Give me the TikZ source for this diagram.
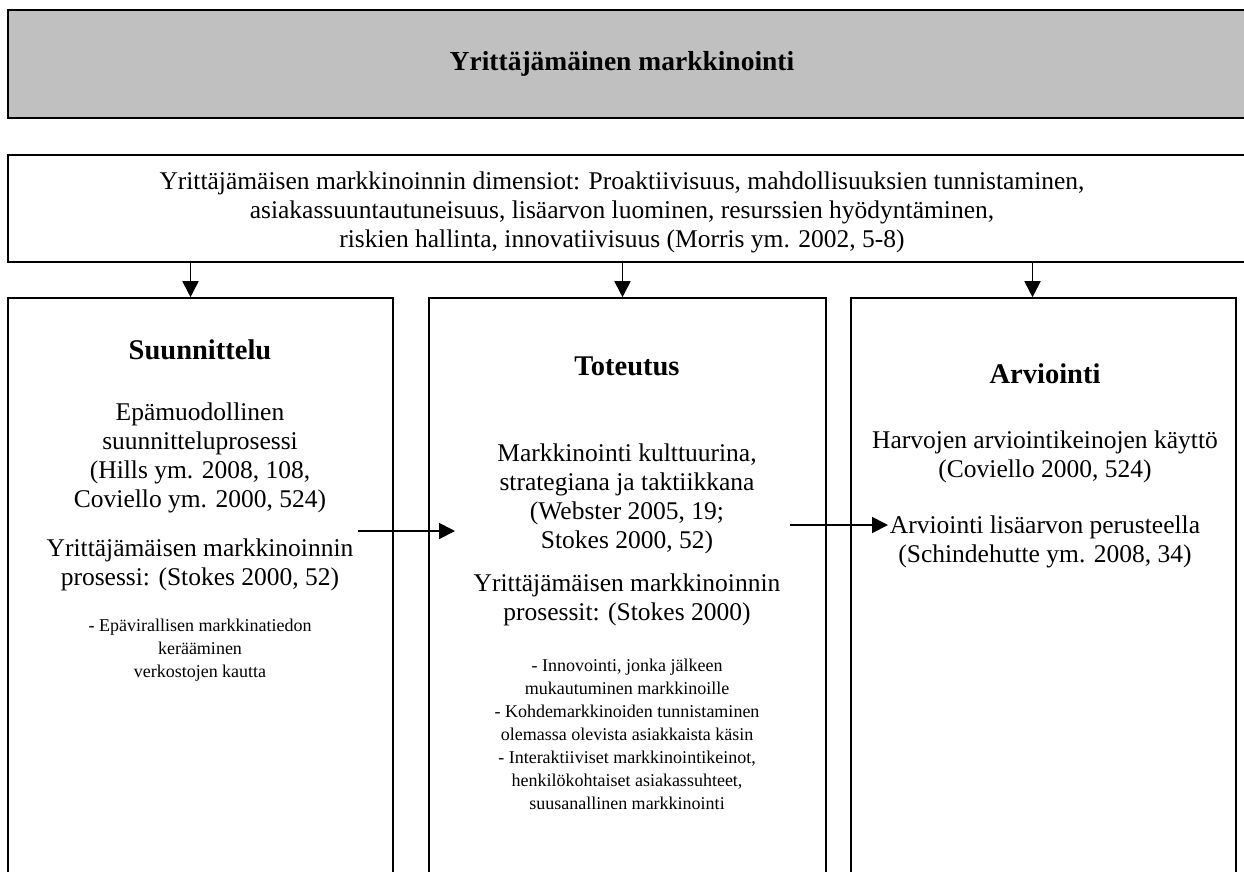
\documentclass[tikz,border=0pt]{standalone}
\usepackage{fontspec}
\setmainfont{Liberation Serif}
\usepackage{tikz}
\usetikzlibrary{arrows.meta}
\definecolor{boxgray}{RGB}{192,192,192}

\begin{document}
\begin{tikzpicture}[x=1pt, y=-1pt,
    frame/.style={draw, line width=1.6pt, inner sep=0pt},
    colbox/.style={frame, minimum width=#1, minimum height=582pt},
    headtext/.style={font=\fontsize{28.5}{32}\selectfont\bfseries},
    bodytext/.style={align=center, font=\fontsize{25.5}{29}\selectfont},
    smalltext/.style={align=center, font=\fontsize{18}{23}\selectfont},
    arr/.style={line width=1.8pt, -{Triangle[length=16pt, width=16pt]}}]
            % Same Bounding Box
            \clip (0,0) rectangle (1244,871);

            % Boxes
            \node[frame, fill=boxgray, minimum width=1242pt, minimum height=108pt] (title) at (629,64) {};
            \node[frame, minimum width=1242pt, minimum height=107pt] (dim) at (629,208.5) {};
            \node[colbox=385pt] (plan) at (200.5,589) {};
            \node[colbox=397pt] (impl) at (627.5,589) {};
            \node[colbox=385pt] (eval) at (1043.5,589) {};

            % Top texts
            \node[headtext, font=\fontsize{27.5}{32}\selectfont\bfseries] (titletext) at (622,64) {Yrittäjämäinen markkinointi};
            \node[bodytext] (dimtext) at (622,212) {Yrittäjämäisen markkinoinnin dimensiot: Proaktiivisuus, mahdollisuuksien tunnistaminen,\\
                asiakassuuntautuneisuus, lisäarvon luominen, resurssien hyödyntäminen,\\
                riskien hallinta, innovatiivisuus (Morris ym. 2002, 5-8)};

            % Suunnittelu
            \node[headtext] (planhead) at (200,350) {Suunnittelu};
            \node[bodytext] (plana) at (200,458) {Epämuodollinen\\ suunnitteluprosessi\\ (Hills ym. 2008, 108,\\ Coviello ym. 2000, 524)};
            \node[bodytext] (planb) at (200,565) {Yrittäjämäisen markkinoinnin\\ prosessi: (Stokes 2000, 52)};
            \node[smalltext] (planc) at (200,650) {- Epävirallisen markkinatiedon\\ kerääminen\\ verkostojen kautta};

            % Toteutus
            \node[headtext] (implhead) at (627,366) {Toteutus};
            \node[bodytext] (impla) at (627,499) {Markkinointi kulttuurina,\\ strategiana ja taktiikkana\\ (Webster 2005, 19;\\ Stokes 2000, 52)};
            \node[bodytext] (implb) at (627,600) {Yrittäjämäisen markkinoinnin\\ prosessit: (Stokes 2000)};
            \node[smalltext] (implc) at (627,734) {- Innovointi, jonka jälkeen\\ mukautuminen markkinoille\\
                - Kohdemarkkinoiden tunnistaminen\\ olemassa olevista asiakkaista käsin\\
                - Interaktiiviset markkinointikeinot,\\ henkilökohtaiset asiakassuhteet,\\ suusanallinen markkinointi};

            % Arviointi
            \node[headtext] (evalhead) at (1045,374) {Arviointi};
            \node[bodytext] (evala) at (1045,457) {Harvojen arviointikeinojen käyttö\\ (Coviello 2000, 524)};
            \node[bodytext] (evalb) at (1045,542) {Arviointi lisäarvon perusteella\\ (Schindehutte ym. 2008, 34)};

            % Arrows
            \draw[arr] ([xshift=-10pt]plan.north |- dim.south) -- ([xshift=-10pt]plan.north);
            \draw[arr] ([xshift=-5pt]impl.north |- dim.south) -- ([xshift=-5pt]impl.north);
            \draw[arr] ([xshift=-11pt]eval.north |- dim.south) -- ([xshift=-11pt]eval.north);
            \coordinate (aonestart) at (358,531);
            \coordinate (aoneend) at (455,531);
            \coordinate (atwostart) at (790,525);
            \coordinate (atwoend) at (888,525);
            \draw[arr] (aonestart) -- (aoneend);
            \draw[arr] (atwostart) -- (atwoend);
        \end{tikzpicture}
\end{document}
